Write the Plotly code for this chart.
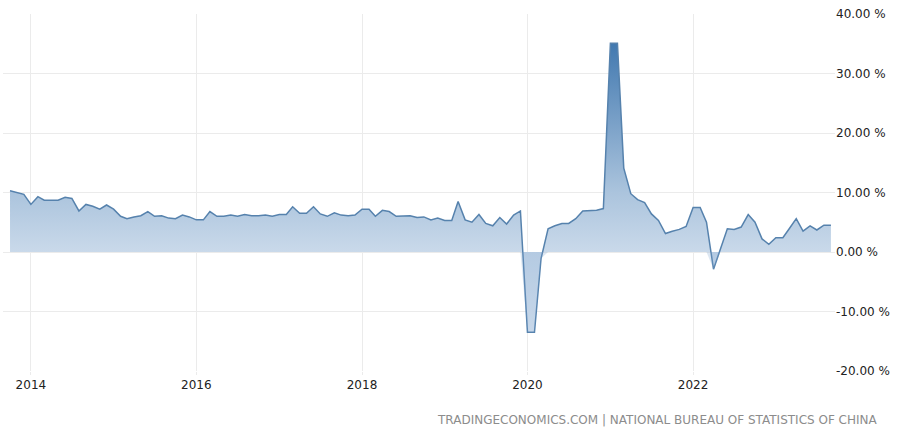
import pandas as pd
import plotly.graph_objects as go

# monthly industrial production, % yoy (Oct 2013 .. Sep 2023)
months = pd.date_range('2013-10-01', '2023-09-01', freq='MS')
ip_yoy = [
    10.3, 10.0, 9.7,
    8.0, 9.3, 8.7, 8.7, 8.7, 9.2, 9.0, 6.9, 8.0, 7.7, 7.2, 7.9,
    7.2, 6.0, 5.6, 5.9, 6.1, 6.8, 6.0, 6.1, 5.7, 5.6, 6.2, 5.9,
    5.4, 5.4, 6.8, 6.0, 6.0, 6.2, 6.0, 6.3, 6.1, 6.1, 6.2, 6.0,
    6.3, 6.3, 7.6, 6.5, 6.5, 7.6, 6.4, 6.0, 6.6, 6.2, 6.1, 6.2,
    7.2, 7.2, 6.0, 7.0, 6.8, 6.0, 6.0, 6.1, 5.8, 5.9, 5.4, 5.7,
    5.3, 5.3, 8.5, 5.4, 5.0, 6.3, 4.8, 4.4, 5.8, 4.7, 6.2, 6.9,
    -13.5, -13.5, -1.1, 3.9, 4.4, 4.8, 4.8, 5.6, 6.9, 6.9, 7.0, 7.3,
    35.1, 35.1, 14.1, 9.8, 8.8, 8.3, 6.4, 5.3, 3.1, 3.5, 3.8, 4.3,
    7.5, 7.5, 5.0, -2.9, 0.6, 3.9, 3.8, 4.2, 6.3, 5.0, 2.2, 1.3,
    2.4, 2.4, 3.9, 5.6, 3.5, 4.4, 3.7, 4.5, 4.5,
]
y_ticks = [-20, -10, 0, 10, 20, 30, 40]
y_labels = ['%.2f %%' % v for v in y_ticks]  # plain hyphen for negatives
source = 'TRADINGECONOMICS.COM | NATIONAL BUREAU OF STATISTICS OF CHINA'

grid = '#ebebeb'
font = 'DejaVu Sans'

fig = go.Figure()
fig.add_trace(go.Scatter(
    x=months, y=ip_yoy, mode='lines',
    line=dict(color='#5682ad', width=1.5),
    fill='tozeroy',
    fillgradient=dict(
        type='vertical', start=-14, stop=35,
        colorscale=[[0.0, '#e3ebf4'], [0.286, '#c9d9ea'],
                    [0.49, '#abc4dd'], [1.0, '#4279b0']],
    ),
    hoverinfo='x+y', showlegend=False,
))
# pale tint for the parts below zero
below_zero = [min(v, 0) for v in ip_yoy]
fig.add_trace(go.Scatter(
    x=months, y=below_zero, mode='none',
    fill='tozeroy', fillcolor='rgba(120,160,205,0.25)',
    hoverinfo='skip', showlegend=False,
))

fig.update_layout(
    width=900, height=431,
    margin=dict(l=3, r=65, t=14, b=60),
    paper_bgcolor='white', plot_bgcolor='white',
    font=dict(family=font, size=12, color='#222222'),
    xaxis=dict(
        range=['2013-08-31', '2023-09-19'],
        tick0='2014-01-01', dtick='M24', tickformat='%Y',
        showgrid=True, gridcolor=grid, zeroline=False, showline=False,
        ticks='outside', ticklen=3, tickcolor=grid,
    ),
    yaxis=dict(
        side='right', range=[-20, 40],
        tickmode='array', tickvals=y_ticks, ticktext=y_labels,
        showgrid=True, gridcolor=grid, zeroline=False, showline=False,
    ),
    annotations=[dict(
        text=source, xref='paper', yref='paper',
        x=1.054, y=-0.137, xanchor='right', yanchor='middle',
        showarrow=False, font=dict(family=font, size=12, color='#8c8c8c'),
    )],
)

# page has a default body margin; drop it so the figure sits at 0,0
fig.write_html('out.html',
               config={'displayModeBar': False, 'staticPlot': True},
               post_script="document.body.style.margin='0';")
